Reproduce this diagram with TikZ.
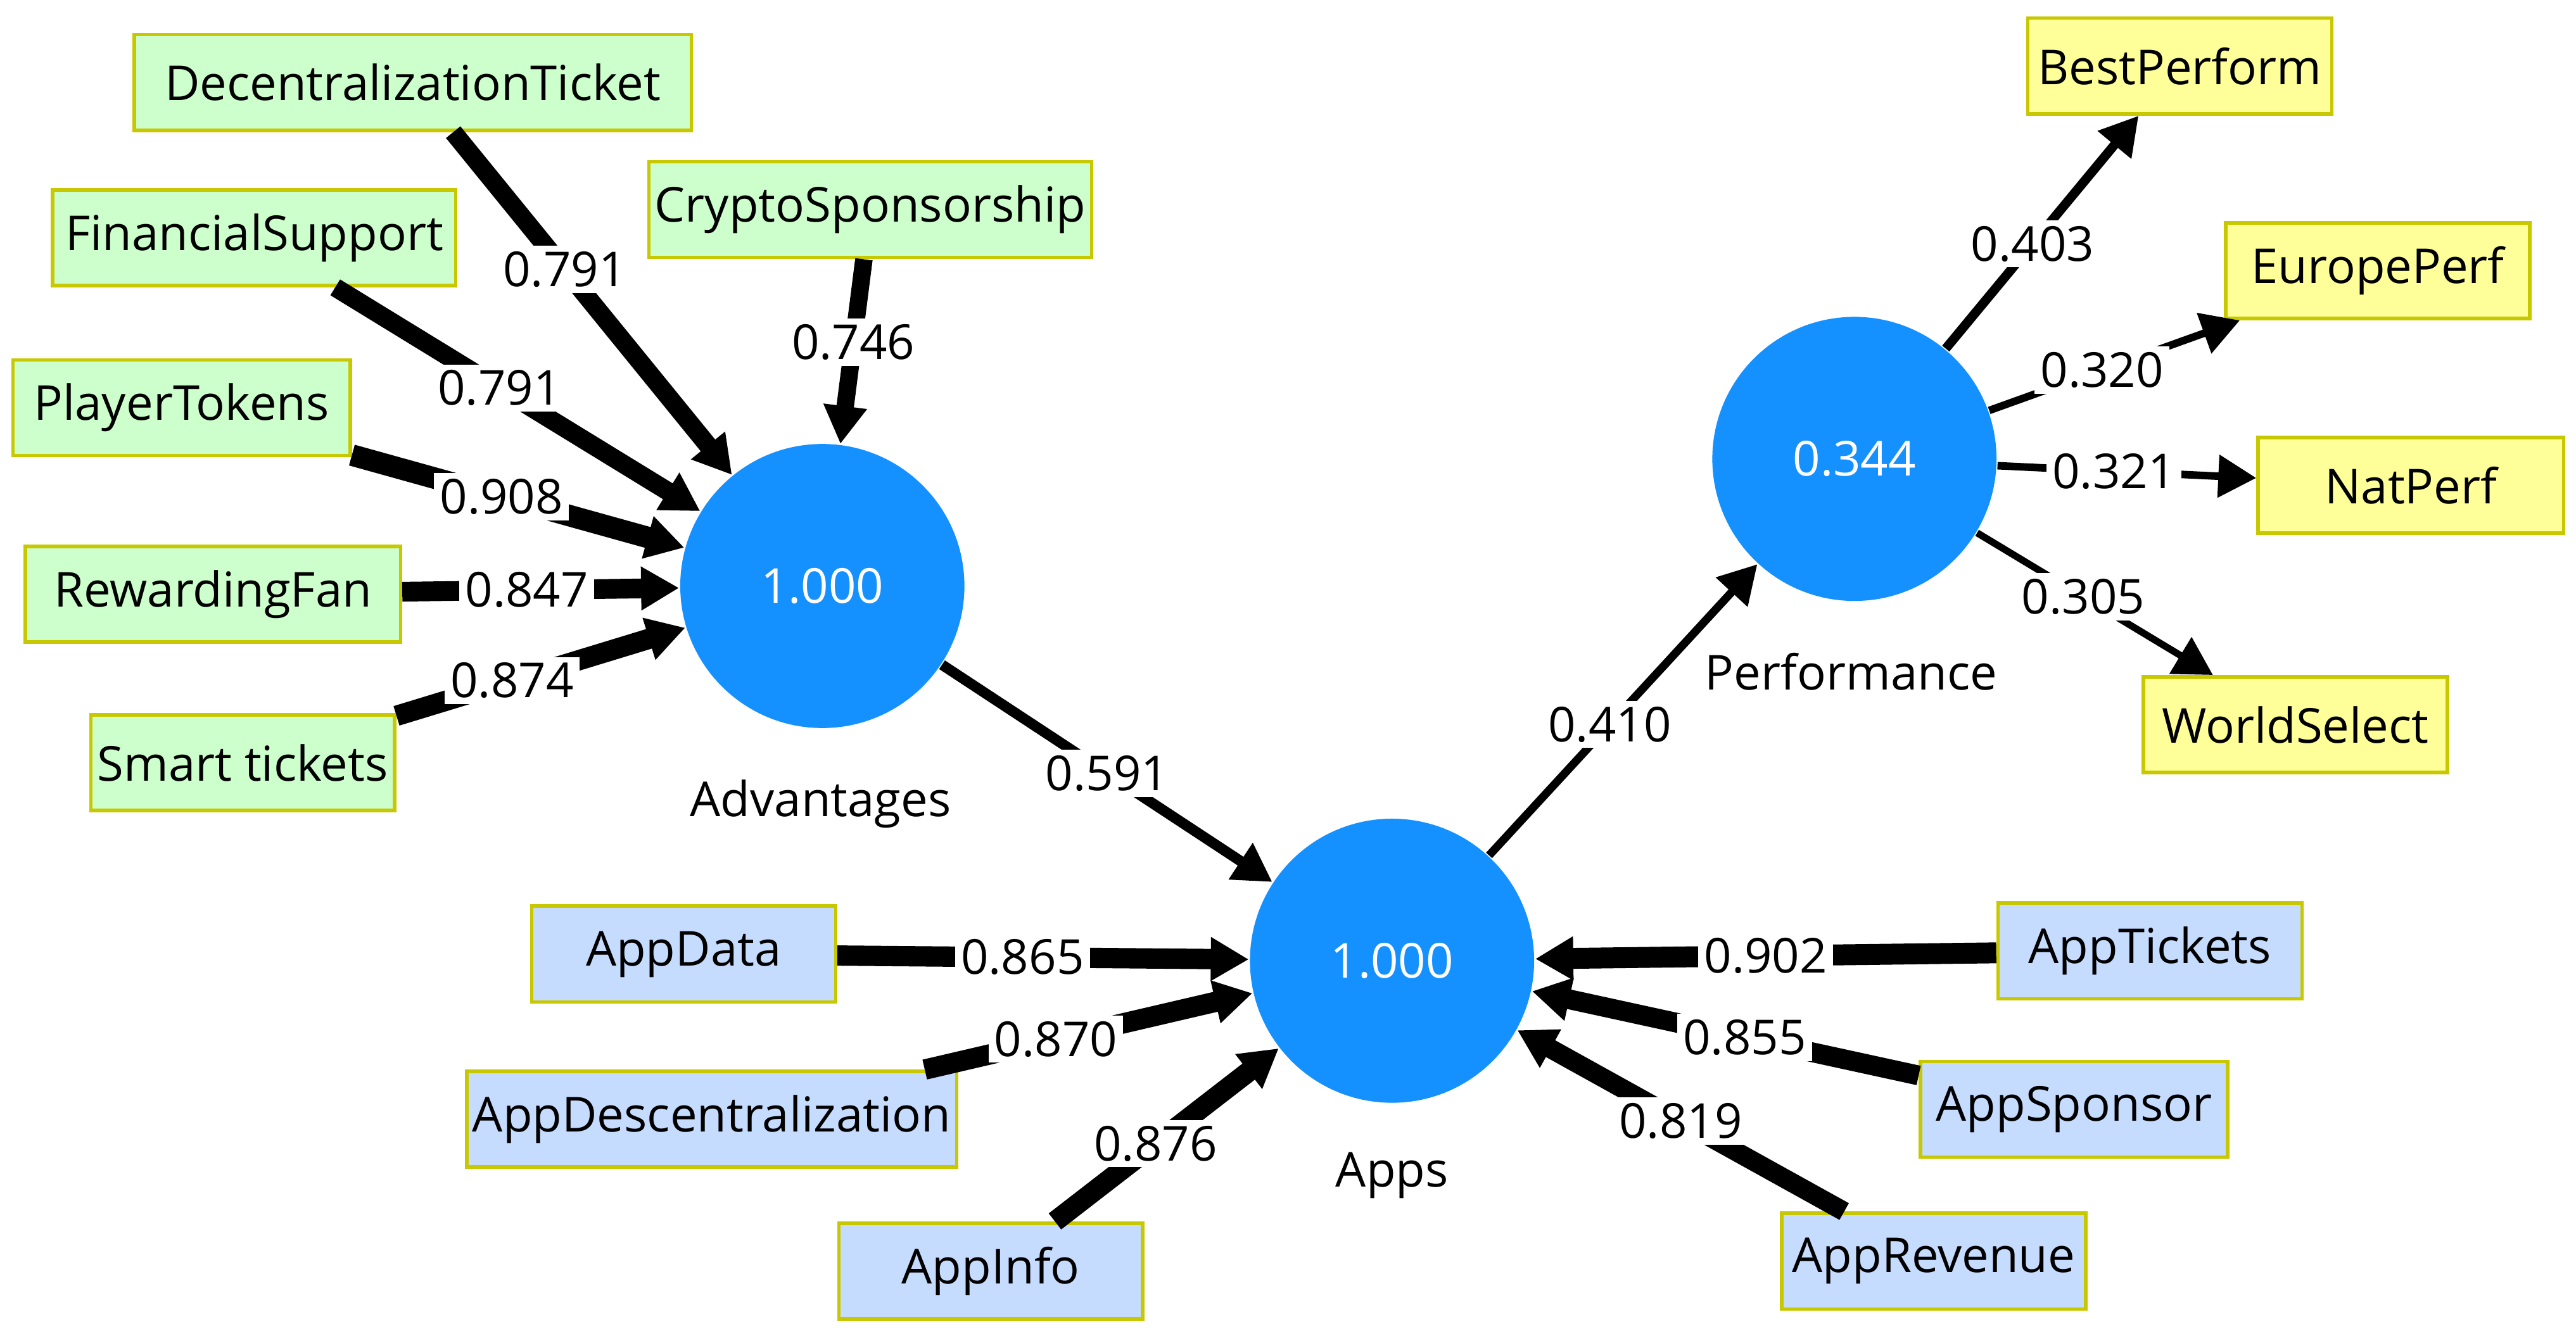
\documentclass[tikz,border=0pt]{standalone}
\usepackage{fontspec}
\setmainfont{Open Sans}
\usetikzlibrary{arrows.meta}
\definecolor{cblue}{HTML}{1591FF}
\definecolor{gfill}{HTML}{CCFFCC}
\definecolor{bfill}{HTML}{C6DCFF}
\definecolor{yfill}{HTML}{FFFF99}
\definecolor{bord}{HTML}{C8C800}
\begin{document}
\begin{tikzpicture}[x=0.01cm,y=-0.01cm,
  every node/.style={font=\fontsize{8.3}{10}\selectfont},
  box/.style={draw=bord, line width=0.6pt, minimum height=0.58cm, minimum width=1.84cm, inner sep=1pt},
  gbox/.style={box, fill=gfill},
  bbox/.style={box, fill=bfill},
  ybox/.style={box, fill=yfill},
  lv/.style={circle, fill=cblue, minimum size=1.72cm, inner sep=0pt, text=white},
  w/.style={fill=white, inner sep=1pt},
  ar/.style={line width=#1, -{Triangle[length=2.3mm 0, width=2.5mm 0]}}
]
\useasboundingbox (0,0) rectangle (1560,809);

% constructs
\node[lv] (adv) at (498,355) {1.000};
\node[lv] (apps) at (843,582) {1.000};
\node[lv] (perf) at (1123,278) {0.344};
\node (advl) at (497,487) {Advantages};
\node (appsl) at (843,712) {Apps};
\node (perfl) at (1121,407) {Performance};

% Advantages indicators
\node[gbox, minimum width=3.37cm] (dt) at (250,50) {DecentralizationTicket};
\node[gbox, minimum width=2.68cm] (cs) at (527,127) {CryptoSponsorship};
\node[gbox, minimum width=2.44cm] (fs) at (154,144) {FinancialSupport};
\node[gbox, minimum width=2.04cm] (pt) at (110,247) {PlayerTokens};
\node[gbox, minimum width=2.27cm] (rf) at (129,360) {RewardingFan};
\node[gbox] (st) at (147,462) {Smart tickets};

% Apps indicators
\node[bbox] (ad) at (414,578) {AppData};
\node[bbox, minimum width=2.96cm] (ads) at (431,678) {AppDescentralization};
\node[bbox] (ai) at (600,770) {AppInfo};
\node[bbox] (at) at (1302,576) {AppTickets};
\node[bbox, minimum width=1.86cm] (asp) at (1256,672) {AppSponsor};
\node[bbox] (ar) at (1171,764) {AppRevenue};

% Performance indicators
\node[ybox] (bp) at (1320,40) {BestPerform};
\node[ybox] (ep) at (1440,164) {EuropePerf};
\node[ybox, minimum width=1.85cm] (np) at (1460,294) {NatPerf};
\node[ybox] (ws) at (1390,439) {WorldSelect};

% outer weights to Advantages
\draw[ar=3.2pt] (dt) -- node[w, pos=0.4] {0.791} (adv);
\draw[ar=3.0pt] (cs) -- node[w, pos=0.45] {0.746} (adv);
\draw[ar=3.2pt] (fs) -- node[w, pos=0.45] {0.791} (adv);
\draw[ar=3.7pt] (pt) -- node[w, pos=0.45] {0.908} (adv);
\draw[ar=3.4pt] (rf) -- node[w, pos=0.45] {0.847} (adv);
\draw[ar=3.5pt] (st) -- node[w, pos=0.4] {0.874} (adv);

% outer weights to Apps
\draw[ar=3.5pt] (ad) -- node[w, pos=0.45] {0.865} (apps);
\draw[ar=3.5pt] (ads) -- node[w, pos=0.4] {0.870} (apps);
\draw[ar=3.5pt] (ai) -- node[w, pos=0.45] {0.876} (apps);
\draw[ar=3.6pt] (at) -- node[w, pos=0.5] {0.902} (apps);
\draw[ar=3.4pt] (asp) -- node[w, pos=0.45] {0.855} (apps);
\draw[ar=3.3pt] (ar) -- node[w, pos=0.5] {0.819} (apps);

% Performance to indicators
\draw[ar=1.6pt] (perf) -- node[w, pos=0.45] {0.403} (bp);
\draw[ar=1.3pt] (perf) -- node[w, pos=0.45] {0.320} (ep);
\draw[ar=1.3pt] (perf) -- node[w, pos=0.45] {0.321} (np);
\draw[ar=1.2pt] (perf) -- node[w, pos=0.45] {0.305} (ws);

% structural paths
\draw[ar=1.8pt] (adv) -- node[w] {0.591} (apps);
\draw[ar=1.4pt] (apps) -- node[w, pos=0.45] {0.410} (perf);
\end{tikzpicture}
\end{document}
